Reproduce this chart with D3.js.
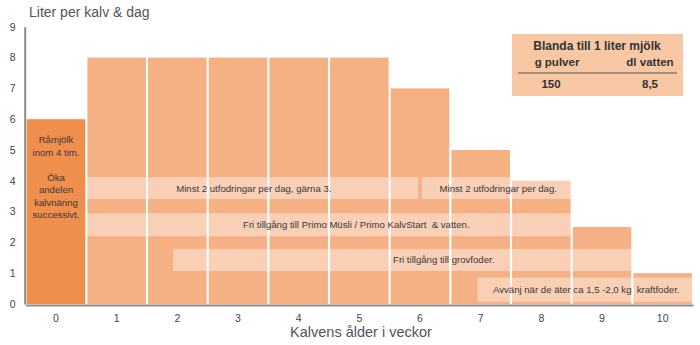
<!DOCTYPE html>
<html><head><meta charset="utf-8">
<script src="https://cdn.jsdelivr.net/npm/d3@7"></script>
<style>
body{margin:0;background:#fff;}
text{font-family:"Liberation Sans",Arial,sans-serif;white-space:pre;}
</style></head>
<body><svg id="c" width="700" height="345"></svg>
<script>
const weeks = [0,1,2,3,4,5,6,7,8,9,10];
const liters = [6,8,8,8,8,8,7,5,4,2.5,1];
const yTicks = [0,1,2,3,4,5,6,7,8,9];
const bandTexts = [
  "Minst 2 utfodringar per dag, gärna 3.",
  "Minst 2 utfodringar per dag.",
  "Fri tillgång till Primo Müsli / Primo KalvStart  & vatten.",
  "Fri tillgång till grovfoder.",
  "Avvänj när de äter ca 1,5 -2,0 kg  kraftfoder."
];
const bandFrom = [0.5, 6.03, 0.5, 1.93, 6.95];
const bandTo   = [5.97, 8.5, 8.5, 9.5, 10.5];
const bandLow  = [3.41, 3.41, 2.2, 1.07, 0.07];
const bandHigh = [4.12, 4.12, 2.95, 1.79, 0.86];
const bandTextAt = [3.26, 7.29, 4.95, 6.39, 8.74];
const week0Lines = ["Råmjölk","inom 4 tim.","","Öka","andelen","kalvnäring","successivt."];
const tableTitle = "Blanda till 1 liter mjölk";
const tableHeads = ["g pulver","dl vatten"];
const tableValues = ["150","8,5"];
const yTitle = "Liter per kalv & dag";
const xTitle = "Kalvens ålder i veckor";

const svg = d3.select("#c");
const pLeft = 25.7, pRight = 693, pTop = 26.8, pBottom = 304;
const x = d3.scaleBand().domain(weeks).range([pLeft, pRight]).paddingInner(0.035).paddingOuter(0.017);
const xl = d3.scaleLinear().domain([-0.5, 10.5]).range([pLeft, pRight]);
const y = d3.scaleLinear().domain([0, 9]).range([pBottom, pTop]);

// bars
svg.append("g").selectAll("rect").data(weeks).join("rect")
  .attr("x", d => x(d)).attr("width", x.bandwidth())
  .attr("y", (d,i) => y(liters[i])).attr("height", (d,i) => pBottom - y(liters[i]))
  .attr("fill", d => d === 0 ? "#EF8E4D" : "#F5B084");

// bands
const bg = svg.append("g");
bandTexts.forEach((t,i) => {
  bg.append("rect")
    .attr("x", xl(bandFrom[i])).attr("width", xl(bandTo[i]) - xl(bandFrom[i]))
    .attr("y", y(bandHigh[i])).attr("height", y(bandLow[i]) - y(bandHigh[i]))
    .attr("fill", "#fff").attr("opacity", 0.4);
  bg.append("text").attr("x", xl(bandTextAt[i])).attr("y", (y(bandHigh[i]) + y(bandLow[i]))/2)
    .attr("text-anchor","middle").attr("dominant-baseline","central")
    .attr("font-size", 9.6).attr("fill","#3a3a3a").text(t);
});

// week 0 text
const w0 = svg.append("text").attr("text-anchor","middle").attr("font-size",9.6).attr("fill","#3a3a3a");
week0Lines.forEach((l,i) => {
  w0.append("tspan").attr("x", x(0) + x.bandwidth()/2).attr("y", 143 + i*12.5).text(l);
});

// axes
const yAxis = svg.append("g").attr("transform", `translate(${pLeft-1},0)`)
  .call(d3.axisLeft(y).tickValues(yTicks).tickSize(0).tickPadding(10).tickFormat(d3.format("d")));
yAxis.select(".domain").attr("stroke","#8a8a8a").attr("stroke-width",2);
yAxis.selectAll("text").attr("font-size",10.5).attr("fill","#444").attr("x",-12).attr("text-anchor","middle");

const xAxis = svg.append("g").attr("transform", `translate(0,${pBottom+1})`)
  .call(d3.axisBottom(x).tickSize(0).tickPadding(10));
xAxis.select(".domain").attr("stroke","#8a8a8a").attr("stroke-width",2);
xAxis.selectAll("text").attr("font-size",10.5).attr("fill","#444");

svg.append("text").attr("x", 29).attr("y", 17).attr("font-size", 14).attr("fill","#555").text(yTitle);
svg.append("text").attr("x", 361).attr("y", 337).attr("text-anchor","middle").attr("font-size", 14.5).attr("fill","#555").text(xTitle);

// table box
const tb = svg.append("g");
tb.append("rect").attr("x",512).attr("y",34).attr("width",171).attr("height",62).attr("fill","#F8C8A4");
tb.append("text").attr("x",597).attr("y",50).attr("text-anchor","middle").attr("font-size",12).attr("font-weight","bold").attr("fill","#333").text(tableTitle);
tb.append("text").attr("x",557).attr("y",66).attr("text-anchor","middle").attr("font-size",11.5).attr("font-weight","bold").attr("fill","#333").text(tableHeads[0]);
tb.append("text").attr("x",650).attr("y",66).attr("text-anchor","middle").attr("font-size",11.5).attr("font-weight","bold").attr("fill","#333").text(tableHeads[1]);
tb.append("line").attr("x1",518).attr("x2",677).attr("y1",73).attr("y2",73).attr("stroke","#555").attr("stroke-width",1);
tb.append("text").attr("x",551).attr("y",88).attr("text-anchor","middle").attr("font-size",11.5).attr("font-weight","bold").attr("fill","#333").text(tableValues[0]);
tb.append("text").attr("x",650).attr("y",88).attr("text-anchor","middle").attr("font-size",11.5).attr("font-weight","bold").attr("fill","#333").text(tableValues[1]);
</script></body></html>
